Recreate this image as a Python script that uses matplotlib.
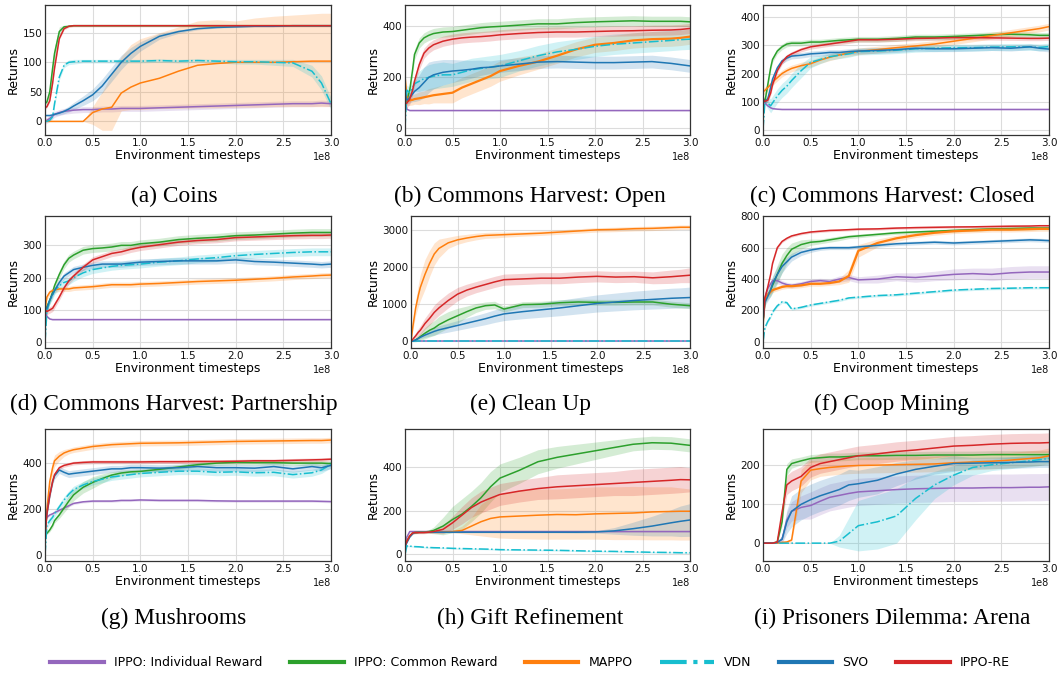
import numpy as np
import matplotlib
matplotlib.use("Agg")
import matplotlib.pyplot as plt
from matplotlib.lines import Line2D
from matplotlib.ticker import MultipleLocator

# ---------------- data ----------------
X = [0, .02, .05, .08, .1, .15, .2, .25, .3, .4, .5, .6, .7, .8, .9, 1.0,
     1.2, 1.4, 1.6, 1.8, 2.0, 2.2, 2.4, 2.6, 2.8, 2.9, 3.0]   # x 1e8 steps

methods = ["IPPO: Individual Reward", "IPPO: Common Reward", "MAPPO", "VDN", "SVO", "IPPO-RE"]
colors = ["#9467bd", "#2ca02c", "#ff7f0e", "#17becf", "#1f77b4", "#d62728"]

titles = ["(a) Coins", "(b) Commons Harvest: Open", "(c) Commons Harvest: Closed",
          "(d) Commons Harvest: Partnership", "(e) Clean Up", "(f) Coop Mining",
          "(g) Mushrooms", "(h) Gift Refinement", "(i) Prisoners Dilemma: Arena"]

# (a) Coins
a_ind = [0, 2, 5, 9, 12, 15, 17, 18, 19, 20, 20, 21, 21, 22, 22, 22, 23, 24, 25, 26, 27, 28, 29, 30, 30, 31, 30]
a_com = [30, 33, 50, 90, 115, 152, 160, 161, 162, 162, 162, 162, 162, 162, 162, 162, 162, 162, 162, 162, 162, 162, 162, 162, 162, 162, 162]
a_mappo = [0, 0, 0, 0, 0, 0, 0, 0, 0, 0, 15, 21, 24, 48, 58, 65, 73, 85, 95, 98, 100, 100, 100, 101, 102, 102, 102]
a_vdn = [0, 0, 2, 8, 30, 75, 95, 100, 101, 102, 102, 102, 102, 102, 102, 102, 103, 102, 103, 102, 101, 101, 100, 99, 85, 65, 30]
a_svo = [10, 10, 10, 11, 12, 14, 17, 21, 26, 35, 45, 60, 80, 100, 115, 127, 144, 152, 157, 159, 160, 161, 161, 162, 162, 162, 162]
a_re = [23, 25, 35, 65, 90, 140, 157, 161, 162, 162, 162, 162, 162, 162, 162, 162, 162, 162, 162, 162, 162, 162, 162, 162, 162, 162, 162]
a_ind_sd = 5
a_com_sd = [2, 3, 8, 12, 12, 8, 3, 1, 1, 1, 1, 1, 1, 1, 1, 1, 1, 1, 1, 1, 1, 1, 1, 1, 1, 1, 1]
a_mappo_lo = [0, 0, 0, 0, 0, 0, 0, 0, 0, 0, -5, -15, -15, 18, 20, 20, 22, 22, 23, 23, 24, 24, 25, 25, 25, 25, 25]
a_mappo_hi = [0, 0, 0, 0, 0, 0, 0, 0, 0, 0, 25, 50, 80, 110, 130, 140, 150, 160, 170, 172, 170, 175, 178, 180, 182, 183, 183]
a_vdn_sd = [0, 0, 1, 3, 5, 5, 4, 4, 4, 3, 3, 3, 3, 3, 3, 3, 3, 3, 3, 3, 4, 4, 5, 6, 10, 12, 10]
a_svo_sd = [1, 1, 1, 1, 2, 3, 4, 5, 6, 8, 10, 12, 12, 12, 10, 8, 5, 3, 2, 1, 1, 1, 1, 1, 1, 1, 1]
a_re_sd = 2

# (b) Commons Harvest: Open
b_ind = [110, 75, 70, 70, 70, 70, 70, 70, 70, 70, 70, 70, 70, 70, 70, 70, 70, 70, 70, 70, 70, 70, 70, 70, 70, 70, 70]
b_com = [100, 110, 150, 230, 290, 335, 355, 365, 372, 378, 380, 385, 390, 395, 398, 400, 405, 410, 410, 415, 418, 420, 422, 420, 420, 420, 418]
b_mappo = [190, 110, 110, 112, 115, 118, 122, 126, 130, 135, 140, 160, 175, 190, 205, 225, 245, 262, 285, 310, 328, 335, 345, 350, 352, 355, 360]
b_vdn = [0, 150, 140, 160, 175, 185, 195, 200, 205, 210, 210, 220, 230, 235, 240, 245, 265, 285, 300, 310, 322, 330, 335, 340, 345, 348, 350]
b_svo = [140, 110, 120, 135, 145, 160, 180, 200, 210, 220, 225, 228, 232, 238, 240, 245, 252, 260, 262, 260, 258, 258, 260, 262, 255, 250, 245]
b_re = [95, 100, 115, 150, 185, 250, 295, 315, 328, 342, 350, 355, 358, 360, 363, 367, 372, 376, 378, 378, 380, 382, 383, 385, 386, 388, 392]
b_ind_sd = 2
b_com_sd = 20
b_mappo_sd = [0, 20, 20, 20, 20, 25, 25, 30, 30, 35, 40, 40, 40, 40, 40, 40, 35, 30, 30, 30, 30, 30, 30, 30, 30, 30, 30]
b_vdn_sd = [0, 20, 20, 25, 30, 40, 45, 50, 50, 50, 45, 45, 45, 45, 45, 45, 40, 40, 40, 40, 40, 40, 40, 40, 40, 40, 40]
b_svo_sd = [10, 15, 20, 30, 40, 50, 60, 60, 55, 50, 45, 40, 35, 30, 25, 25, 25, 25, 25, 25, 25, 25, 25, 25, 25, 25, 25]
b_re_sd = 20

# (c) Commons Harvest: Closed
c_ind = [110, 95, 85, 78, 75, 73, 72, 72, 72, 72, 72, 72, 72, 72, 72, 72, 72, 72, 72, 72, 72, 72, 72, 72, 72, 72, 72]
c_com = [110, 100, 160, 220, 250, 280, 295, 305, 308, 308, 312, 312, 315, 318, 320, 322, 322, 325, 330, 330, 332, 335, 338, 340, 338, 336, 336]
c_mappo = [135, 140, 150, 160, 170, 185, 200, 210, 218, 228, 235, 248, 258, 266, 273, 279, 285, 292, 298, 305, 315, 325, 335, 345, 355, 360, 367]
c_vdn = [0, 100, 95, 85, 95, 120, 140, 155, 175, 210, 240, 250, 260, 265, 270, 278, 280, 283, 288, 290, 292, 292, 294, 295, 295, 293, 296]
c_svo = [110, 100, 110, 150, 180, 220, 245, 255, 262, 265, 270, 272, 275, 275, 278, 280, 282, 285, 290, 288, 288, 290, 292, 290, 295, 290, 287]
c_re = [110, 100, 105, 130, 160, 210, 240, 260, 270, 285, 295, 300, 305, 310, 315, 320, 320, 322, 325, 326, 328, 328, 327, 326, 325, 325, 326]
c_ind_sd = 2
c_com_sd = 10
c_mappo_sd = 12
c_vdn_sd = [0, 10, 20, 25, 25, 25, 25, 25, 25, 25, 20, 15, 12, 12, 12, 12, 12, 12, 12, 12, 12, 12, 12, 12, 12, 12, 12]
c_svo_sd = 10
c_re_sd = 8

# (d) Commons Harvest: Partnership
d_ind = [100, 80, 72, 70, 70, 70, 70, 70, 70, 70, 70, 70, 70, 70, 70, 70, 70, 70, 70, 70, 70, 70, 70, 70, 70, 70, 70]
d_com = [100, 110, 130, 155, 175, 210, 240, 260, 270, 285, 290, 292, 295, 300, 300, 305, 310, 318, 322, 325, 330, 332, 335, 338, 340, 340, 340]
d_mappo = [100, 140, 155, 160, 162, 165, 165, 165, 168, 170, 172, 175, 178, 178, 178, 180, 182, 185, 188, 190, 192, 195, 198, 202, 205, 207, 208]
d_vdn = [0, 95, 130, 145, 160, 175, 185, 190, 200, 215, 225, 230, 235, 238, 240, 242, 248, 252, 258, 262, 268, 272, 275, 278, 280, 280, 280]
d_svo = [100, 105, 130, 150, 160, 185, 205, 215, 225, 232, 238, 242, 242, 242, 245, 248, 250, 252, 252, 252, 255, 250, 248, 245, 242, 240, 242]
d_re = [100, 95, 100, 105, 115, 140, 168, 190, 205, 232, 255, 265, 275, 280, 288, 294, 302, 310, 315, 318, 324, 326, 328, 330, 331, 331, 332]
d_ind_sd = 2
d_com_sd = 12
d_mappo_sd = 8
d_vdn_sd = 12
d_svo_sd = 10
d_re_sd = 10

# (e) Clean Up
e_ind = [0] * 27
e_com = [0, 10, 40, 90, 130, 220, 300, 360, 450, 580, 690, 800, 900, 960, 980, 870, 990, 1000, 1040, 1060, 1050, 1050, 1060, 1060, 1000, 980, 960]
e_mappo = [0, 400, 900, 1250, 1450, 1800, 2100, 2350, 2500, 2650, 2730, 2780, 2820, 2850, 2860, 2870, 2890, 2910, 2940, 2970, 3000, 3010, 3030, 3040, 3060, 3070, 3070]
e_vdn = [0] * 27
e_svo = [0, 10, 40, 80, 110, 170, 220, 270, 310, 370, 430, 490, 550, 610, 680, 740, 800, 850, 900, 960, 1020, 1060, 1100, 1130, 1160, 1170, 1180]
e_re = [0, 60, 150, 250, 300, 480, 620, 780, 900, 1100, 1270, 1380, 1460, 1530, 1600, 1660, 1680, 1700, 1700, 1730, 1750, 1730, 1740, 1710, 1740, 1760, 1780]
e_ind_sd = 0
e_com_sd = [0, 20, 50, 80, 100, 150, 180, 200, 220, 220, 200, 150, 120, 100, 100, 80, 80, 80, 80, 80, 80, 80, 80, 80, 80, 80, 80]
e_mappo_sd = [0, 100, 200, 300, 350, 400, 350, 300, 250, 150, 120, 100, 90, 80, 80, 70, 60, 60, 60, 60, 60, 60, 60, 60, 60, 60, 60]
e_vdn_sd = 0
e_svo_sd = [0, 10, 20, 30, 40, 60, 80, 100, 110, 120, 130, 140, 150, 160, 170, 180, 190, 200, 210, 220, 230, 240, 250, 260, 270, 270, 280]
e_re_sd = [0, 50, 80, 100, 120, 150, 180, 200, 200, 200, 180, 160, 150, 150, 150, 150, 150, 150, 150, 150, 150, 150, 150, 160, 180, 180, 200]

# (f) Coop Mining
f_ind = [130, 280, 340, 370, 390, 390, 375, 365, 360, 370, 385, 390, 385, 400, 410, 395, 400, 415, 410, 420, 430, 435, 430, 440, 445, 445, 445]
f_com = [130, 260, 300, 330, 360, 430, 500, 550, 590, 620, 635, 640, 650, 660, 670, 675, 685, 695, 700, 705, 710, 715, 720, 722, 725, 725, 725]
f_mappo = [130, 270, 300, 320, 330, 340, 350, 355, 355, 360, 370, 370, 375, 385, 420, 580, 630, 660, 680, 695, 705, 710, 715, 715, 718, 720, 720]
f_vdn = [0, 90, 130, 160, 190, 230, 255, 250, 210, 220, 235, 245, 255, 265, 280, 285, 295, 300, 310, 320, 330, 335, 340, 342, 345, 345, 345]
f_svo = [130, 250, 290, 330, 370, 430, 480, 510, 540, 570, 585, 595, 600, 600, 600, 605, 615, 625, 630, 635, 630, 635, 640, 645, 650, 648, 645]
f_re = [130, 280, 350, 430, 500, 600, 640, 660, 675, 690, 700, 705, 710, 712, 715, 718, 720, 725, 728, 730, 732, 733, 735, 737, 738, 740, 740]
f_ind_sd = [0, 10, 15, 20, 20, 20, 15, 15, 15, 15, 15, 15, 15, 20, 20, 20, 25, 25, 30, 30, 35, 35, 40, 40, 40, 40, 40]
f_com_sd = [0, 20, 30, 40, 50, 60, 60, 50, 40, 30, 20, 15, 15, 15, 12, 12, 10, 10, 10, 10, 10, 10, 10, 10, 10, 10, 10]
f_mappo_sd = [0, 15, 15, 15, 15, 15, 15, 15, 15, 15, 15, 15, 15, 20, 40, 40, 25, 20, 15, 15, 15, 15, 15, 15, 15, 15, 15]
f_vdn_sd = 8
f_svo_sd = [0, 20, 30, 40, 50, 50, 40, 30, 25, 20, 15, 12, 12, 12, 12, 12, 12, 12, 12, 12, 12, 12, 12, 12, 12, 12, 12]
f_re_sd = 8

# (g) Mushrooms
g_ind = [150, 165, 175, 180, 185, 195, 205, 215, 225, 232, 235, 235, 235, 238, 238, 240, 238, 238, 238, 236, 235, 235, 235, 235, 235, 234, 233]
g_com = [100, 95, 110, 130, 150, 175, 205, 235, 262, 295, 316, 333, 348, 357, 362, 364, 373, 383, 393, 400, 403, 402, 402, 400, 400, 400, 398]
g_mappo = [50, 200, 320, 380, 410, 430, 444, 452, 458, 465, 472, 476, 480, 482, 484, 486, 487, 488, 490, 492, 494, 495, 496, 497, 498, 498, 500]
g_vdn = [0, 130, 150, 165, 180, 210, 240, 265, 285, 305, 320, 330, 340, 345, 350, 355, 360, 365, 365, 360, 362, 358, 360, 350, 358, 370, 395]
g_svo = [90, 180, 260, 320, 345, 370, 360, 352, 355, 360, 365, 370, 375, 375, 380, 380, 378, 380, 385, 380, 380, 378, 385, 375, 385, 380, 390]
g_re = [90, 180, 260, 320, 350, 380, 390, 395, 400, 403, 405, 405, 405, 405, 405, 405, 406, 406, 407, 407, 408, 410, 410, 412, 414, 415, 417]
g_ind_sd = 5
g_com_sd = [0, 5, 8, 10, 10, 15, 20, 25, 25, 25, 25, 20, 15, 12, 10, 10, 10, 10, 10, 10, 10, 10, 10, 10, 10, 10, 10]
g_mappo_sd = [0, 20, 30, 30, 25, 20, 15, 12, 12, 12, 12, 12, 12, 12, 12, 12, 12, 12, 12, 12, 12, 12, 12, 12, 12, 12, 12]
g_vdn_sd = 15
g_svo_sd = 15
g_re_sd = 8

# (h) Gift Refinement
h_ind = [40, 80, 105, 105, 105, 105, 105, 105, 105, 105, 105, 105, 105, 105, 105, 105, 105, 105, 105, 105, 105, 105, 105, 105, 105, 105, 105]
h_com = [40, 60, 85, 98, 100, 102, 103, 105, 110, 130, 160, 185, 220, 260, 310, 350, 385, 425, 445, 460, 475, 490, 505, 512, 510, 505, 500]
h_mappo = [40, 60, 85, 98, 100, 102, 103, 103, 103, 103, 105, 110, 130, 150, 165, 172, 176, 180, 183, 182, 186, 188, 190, 195, 197, 198, 198]
h_vdn = [0, 40, 38, 37, 36, 35, 33, 32, 31, 30, 28, 27, 26, 25, 24, 22, 21, 20, 19, 17, 15, 14, 12, 10, 9, 8, 8]
h_svo = [35, 55, 80, 95, 100, 102, 102, 102, 102, 102, 102, 102, 102, 102, 102, 102, 102, 102, 102, 102, 103, 108, 118, 130, 145, 152, 158]
h_re = [40, 60, 85, 98, 100, 100, 100, 102, 105, 115, 145, 180, 215, 240, 258, 275, 290, 302, 310, 315, 320, 325, 330, 335, 340, 343, 342]
h_ind_sd = 2
h_com_sd = [0, 3, 5, 5, 5, 5, 5, 8, 15, 40, 60, 70, 70, 70, 70, 65, 60, 55, 50, 45, 40, 35, 30, 30, 30, 30, 30]
h_mappo_lo = [37, 57, 82, 95, 97, 99, 100, 100, 100, 100, 100, 95, 90, 85, 80, 75, 72, 70, 70, 70, 70, 68, 68, 67, 67, 66, 66]
h_mappo_hi = [43, 63, 88, 101, 103, 105, 106, 106, 106, 106, 110, 130, 170, 230, 260, 280, 295, 300, 300, 305, 310, 310, 312, 310, 310, 305, 300]
h_vdn_sd = 3
h_svo_sd = [3, 3, 3, 3, 3, 3, 3, 3, 3, 3, 3, 3, 3, 3, 3, 3, 3, 3, 3, 4, 5, 15, 30, 45, 60, 70, 75]
h_re_sd = [0, 3, 5, 5, 5, 5, 5, 5, 8, 20, 30, 40, 45, 50, 50, 50, 50, 50, 55, 55, 55, 55, 60, 60, 60, 60, 55]

# (i) Prisoners Dilemma: Arena
i_ind = [0, 0, 0, 0, 0, 2, 10, 60, 82, 92, 97, 108, 118, 123, 128, 132, 135, 138, 140, 141, 142, 142, 143, 143, 144, 144, 145]
i_com = [0, 0, 0, 0, 0, 3, 55, 190, 205, 212, 218, 220, 222, 222, 223, 225, 225, 226, 226, 227, 227, 227, 228, 228, 228, 228, 228]
i_mappo = [0, 0, 0, 0, 0, 0, 2, 3, 8, 160, 188, 192, 195, 197, 199, 200, 201, 202, 203, 204, 207, 209, 211, 214, 218, 220, 225]
i_vdn = [0, 0, 0, 0, 0, 0, 0, 0, 0, 0, 0, 0, 0, 5, 25, 45, 55, 70, 115, 150, 175, 195, 202, 207, 212, 215, 218]
i_svo = [0, 0, 0, 0, 0, 2, 10, 55, 82, 100, 112, 122, 130, 138, 150, 153, 162, 178, 190, 198, 205, 206, 207, 208, 209, 210, 210]
i_re = [0, 0, 0, 0, 0, 3, 80, 150, 160, 172, 195, 205, 210, 215, 220, 225, 230, 236, 240, 245, 250, 252, 255, 257, 258, 258, 259]
i_ind_sd = [0, 0, 0, 0, 0, 2, 10, 20, 25, 30, 35, 35, 35, 35, 35, 35, 35, 35, 35, 35, 35, 35, 35, 35, 35, 35, 35]
i_com_sd = [0, 0, 0, 0, 0, 2, 10, 15, 12, 10, 10, 10, 10, 10, 10, 10, 10, 10, 10, 10, 10, 10, 10, 10, 10, 10, 10]
i_mappo_sd = [0, 0, 0, 0, 0, 0, 2, 3, 5, 30, 25, 20, 20, 20, 20, 20, 20, 20, 20, 20, 20, 20, 20, 20, 20, 20, 20]
i_vdn_sd = [0, 0, 0, 0, 0, 0, 0, 0, 0, 0, 0, 0, 0, 15, 40, 65, 70, 70, 55, 35, 25, 20, 15, 15, 15, 15, 15]
i_svo_sd = [0, 0, 0, 0, 0, 2, 10, 30, 40, 40, 40, 40, 40, 40, 40, 35, 35, 30, 25, 20, 20, 15, 15, 15, 15, 15, 15]
i_re_sd = [0, 0, 0, 0, 0, 2, 20, 25, 25, 25, 25, 25, 25, 25, 25, 25, 25, 25, 25, 25, 25, 25, 25, 25, 25, 25, 25]

panel_series = [
    [(a_ind, a_ind_sd), (a_com, a_com_sd), (a_mappo, (a_mappo_lo, a_mappo_hi)), (a_vdn, a_vdn_sd), (a_svo, a_svo_sd), (a_re, a_re_sd)],
    [(b_ind, b_ind_sd), (b_com, b_com_sd), (b_mappo, b_mappo_sd), (b_vdn, b_vdn_sd), (b_svo, b_svo_sd), (b_re, b_re_sd)],
    [(c_ind, c_ind_sd), (c_com, c_com_sd), (c_mappo, c_mappo_sd), (c_vdn, c_vdn_sd), (c_svo, c_svo_sd), (c_re, c_re_sd)],
    [(d_ind, d_ind_sd), (d_com, d_com_sd), (d_mappo, d_mappo_sd), (d_vdn, d_vdn_sd), (d_svo, d_svo_sd), (d_re, d_re_sd)],
    [(e_ind, e_ind_sd), (e_com, e_com_sd), (e_mappo, e_mappo_sd), (e_vdn, e_vdn_sd), (e_svo, e_svo_sd), (e_re, e_re_sd)],
    [(f_ind, f_ind_sd), (f_com, f_com_sd), (f_mappo, f_mappo_sd), (f_vdn, f_vdn_sd), (f_svo, f_svo_sd), (f_re, f_re_sd)],
    [(g_ind, g_ind_sd), (g_com, g_com_sd), (g_mappo, g_mappo_sd), (g_vdn, g_vdn_sd), (g_svo, g_svo_sd), (g_re, g_re_sd)],
    [(h_ind, h_ind_sd), (h_com, h_com_sd), (h_mappo, (h_mappo_lo, h_mappo_hi)), (h_vdn, h_vdn_sd), (h_svo, h_svo_sd), (h_re, h_re_sd)],
    [(i_ind, i_ind_sd), (i_com, i_com_sd), (i_mappo, i_mappo_sd), (i_vdn, i_vdn_sd), (i_svo, i_svo_sd), (i_re, i_re_sd)],
]

y_limits = [(-23, 197), (-26, 484), (-19, 444), (-18, 391), (-177, 3372), (-39, 802),
            (-25, 548), (-30, 575), (-46, 294)]
y_steps = [50, 200, 100, 100, 1000, 200, 200, 200, 100]

# ---------------- layout (pixels) ----------------
W, H = 1058, 673
axes_px = [(45, 331, 5, 135), (405, 690, 5, 135), (763, 1049, 5, 135),
           (45, 331, 216, 348), (411, 690, 216, 348), (763, 1049, 216, 348),
           (45, 331, 429, 561), (405, 690, 429, 561), (763, 1049, 429, 561)]
caption_x = [174, 530, 892]
caption_y = [196, 404, 618]

fig = plt.figure(figsize=(W / 100, H / 100), dpi=100)
x = np.array(X) * 1e8

for k in range(9):
    l, r, t, b = axes_px[k]
    ax = fig.add_axes([l / W, 1 - b / H, (r - l) / W, (b - t) / H])
    ax.set_facecolor("white")
    for j, (mean, band) in enumerate(panel_series[k]):
        m = np.array(mean, dtype=float)
        if isinstance(band, tuple):
            lo, hi = np.array(band[0], float), np.array(band[1], float)
        else:
            sd = np.array(band, dtype=float) * np.ones_like(m)
            lo, hi = m - sd, m + sd
        ax.fill_between(x, lo, hi, color=colors[j], alpha=0.2, linewidth=0)
        ls = "-." if methods[j] == "VDN" else "-"
        lw = 1.6 if (methods[j] == "MAPPO" and k in (1, 5)) else 1.1
        ax.plot(x, m, color=colors[j], lw=lw, ls=ls)
    ax.set_xlim(0, 3e8)
    ax.set_ylim(*y_limits[k])
    ax.xaxis.set_major_locator(MultipleLocator(0.5e8))
    ax.yaxis.set_major_locator(MultipleLocator(y_steps[k]))
    ax.grid(True, color="#dcdcdc", lw=0.8)
    ax.set_axisbelow(True)
    ax.tick_params(length=0, labelsize=7.5, pad=2, colors="#111111")
    ax.xaxis.get_offset_text().set_fontsize(7)
    for s in ax.spines.values():
        s.set_color("#333333")
        s.set_linewidth(0.9)
    ax.set_xlabel("Environment timesteps", fontsize=9, labelpad=1)
    ax.set_ylabel("Returns", fontsize=9, labelpad=2)
    fig.text(caption_x[k % 3] / W, 1 - caption_y[k // 3] / H, titles[k],
             ha="center", va="center", family="Liberation Serif", fontsize=16.8)

handles = [Line2D([], [], color=c, lw=3, ls=("-." if n == "VDN" else "-"))
           for n, c in zip(methods, colors)]
fig.legend(handles, methods, loc="center", bbox_to_anchor=(530 / W, 1 - 663 / H),
           ncol=6, frameon=False, fontsize=9, handlelength=4.3, handletextpad=0.8,
           columnspacing=2.2)

fig.savefig("out.png", dpi=100)
